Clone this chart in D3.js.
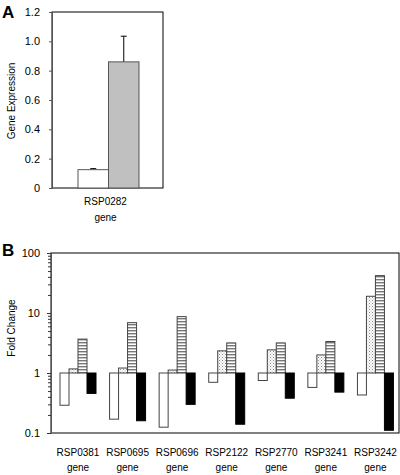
<!DOCTYPE html>
<html><head><meta charset="utf-8">
<script src="https://cdn.jsdelivr.net/npm/d3@7"></script>
<style>body{margin:0;background:#fff}svg{display:block}text{font-family:"Liberation Sans",Arial,sans-serif}</style>
</head><body>
<svg id="c" width="400" height="475"></svg>
<script>
// Panel A data
const catA = ["RSP0282"];
const seriesA = ["white", "gray"];
const valuesA = [0.125, 0.86];
const errA = [0.007, 0.175];
const ticksA = [0, 0.2, 0.4, 0.6, 0.8, 1.0, 1.2];
const tickLabelsA = ["0", "0.2", "0.4", "0.6", "0.8", "1.0", "1.2"];

// Panel B data
const catB = ["RSP0381", "RSP0695", "RSP0696", "RSP2122", "RSP2770", "RSP3241", "RSP3242"];
const seriesB = ["open", "dotted", "striped", "solid"];
const valOpen    = [0.29, 0.17, 0.125, 0.70, 0.75, 0.575, 0.43];
const valDotted  = [1.17, 1.21, 1.12, 2.34, 2.43, 2.0, 19];
const valStriped = [3.67, 6.9, 8.7, 3.17, 3.17, 3.35, 42];
const valSolid   = [0.457, 0.16, 0.30, 0.14, 0.38, 0.48, 0.111];
const ticksB = [0.1, 1, 10, 100];
const tickLabelsB = ["0.1", "1", "10", "100"];

const svg = d3.select("#c");
const defs = svg.append("defs");
// dotted pattern
const pd = defs.append("pattern").attr("id","dots").attr("patternUnits","userSpaceOnUse").attr("width",3).attr("height",3);
pd.append("rect").attr("width",3).attr("height",3).attr("fill","#fff");
pd.append("rect").attr("x",0).attr("y",0).attr("width",1).attr("height",1).attr("fill","#888");
pd.append("rect").attr("x",1.5).attr("y",1.5).attr("width",1).attr("height",1).attr("fill","#aaa");
// striped pattern
const ps = defs.append("pattern").attr("id","stripes").attr("patternUnits","userSpaceOnUse").attr("width",4).attr("height",3);
ps.append("rect").attr("width",4).attr("height",3).attr("fill","#fff");
ps.append("rect").attr("y",0).attr("width",4).attr("height",1.4).attr("fill","#777");

const fills = {open:"#fff", dotted:"url(#dots)", striped:"url(#stripes)", solid:"#000"};

// ---------- Panel A ----------
const A = {l:52, r:163, t:12, b:188};
const yA = d3.scaleLinear().domain([0,1.2]).range([A.b, A.t]);
const xA = d3.scaleBand().domain(catA).range([A.l, A.r]);
const xAin = d3.scaleBand().domain(seriesA).range([0, 61]);

const gA = svg.append("g");
gA.append("rect").attr("x",A.l).attr("y",A.t).attr("width",A.r-A.l).attr("height",A.b-A.t)
  .attr("fill","none").attr("stroke","#000").attr("stroke-width",1);
const axA = gA.append("g").attr("transform",`translate(${A.l},0)`)
  .call(d3.axisLeft(yA).tickValues(ticksA).tickSize(3).tickFormat((d,i)=>tickLabelsA[i]));
axA.select(".domain").attr("stroke","#555");
axA.selectAll(".tick line").attr("stroke","#555");
axA.selectAll("text").attr("font-size",11).attr("fill","#000").attr("x",-12)
  .attr("font-family","Liberation Sans, Arial, sans-serif");

catA.forEach(c=>{
  const x0 = xA(c) + 26;
  seriesA.forEach((s,i)=>{
    const cx = x0 + xAin(s) + xAin.bandwidth()/2;
    gA.append("line").attr("x1",cx).attr("x2",cx).attr("y1",yA(valuesA[i])).attr("y2",yA(valuesA[i]+errA[i])).attr("stroke","#000");
    gA.append("line").attr("x1",cx-3).attr("x2",cx+3).attr("y1",yA(valuesA[i]+errA[i])).attr("y2",yA(valuesA[i]+errA[i])).attr("stroke","#000");
  });
  seriesA.forEach((s,i)=>{
    gA.append("rect").attr("x",x0 + xAin(s)).attr("width",xAin.bandwidth())
      .attr("y",yA(valuesA[i])).attr("height",yA(0)-yA(valuesA[i]))
      .attr("fill", s==="white"?"#fff":"#c0c0c0").attr("stroke","#555").attr("stroke-width",1);
  });
  gA.append("text").attr("x",xA(c)+xA.bandwidth()/2-2).attr("y",205).attr("text-anchor","middle").attr("font-size",10).text(c);
  gA.append("text").attr("x",xA(c)+xA.bandwidth()/2-2).attr("y",221).attr("text-anchor","middle").attr("font-size",10).text("gene");
});
gA.append("text").attr("transform",`translate(15,101) rotate(-90)`).attr("text-anchor","middle").attr("font-size",10).text("Gene Expression");
gA.append("text").attr("x",2).attr("y",18).attr("font-size",17).attr("font-weight","bold").text("A");

// ---------- Panel B ----------
const B = {l:51, r:399, t:253, b:433};
const yB = d3.scaleLog().domain([0.1,100]).range([B.b, B.t]);
const xB = d3.scaleBand().domain(catB).range([B.l, 398]);
const xBin = d3.scaleBand().domain(seriesB).range([0, 36]);

const gB = svg.append("g");
gB.append("rect").attr("x",B.l).attr("y",B.t).attr("width",B.r-B.l).attr("height",B.b-B.t)
  .attr("fill","none").attr("stroke","#000").attr("stroke-width",1);
const minor = [];
[0.1,1,10].forEach(d=>{ for(let k=2;k<=9;k++) minor.push(d*k); });
gB.append("g").attr("transform",`translate(${B.l},0)`)
  .call(d3.axisLeft(yB).tickValues(minor).tickSize(3).tickFormat(""))
  .call(g=>g.select(".domain").remove())
  .selectAll(".tick line").attr("stroke","#333");
const axB = gB.append("g").attr("transform",`translate(${B.l},0)`)
  .call(d3.axisLeft(yB).tickValues(ticksB).tickSize(4).tickFormat((d,i)=>tickLabelsB[i]));
axB.select(".domain").attr("stroke","#555");
axB.selectAll(".tick line").attr("stroke","#333");
axB.selectAll("text").attr("font-size",11).attr("fill","#000").attr("x",-11)
  .attr("font-family","Liberation Sans, Arial, sans-serif");

const valsB = {open:valOpen, dotted:valDotted, striped:valStriped, solid:valSolid};
catB.forEach((c,j)=>{
  const x0 = xB(c) + 9;
  seriesB.forEach(s=>{
    const v = valsB[s][j];
    const y1 = yB(Math.max(v,1)), y2 = yB(Math.min(v,1));
    gB.append("rect").attr("x",x0 + xBin(s)).attr("width",xBin.bandwidth())
      .attr("y",y1).attr("height",y2-y1)
      .attr("fill",fills[s]).attr("stroke", s==="solid"?"#000":"#444").attr("stroke-width",1);
  });
  const cx = x0 + 18;
  gB.append("text").attr("x",cx).attr("y",456).attr("text-anchor","middle").attr("font-size",10).text(c);
  gB.append("text").attr("x",cx).attr("y",471).attr("text-anchor","middle").attr("font-size",10).text("gene");
});
gB.append("text").attr("transform",`translate(15,328) rotate(-90)`).attr("text-anchor","middle").attr("font-size",10).text("Fold Change");
gB.append("text").attr("x",2).attr("y",256).attr("font-size",17).attr("font-weight","bold").text("B");
</script>
</body></html>
